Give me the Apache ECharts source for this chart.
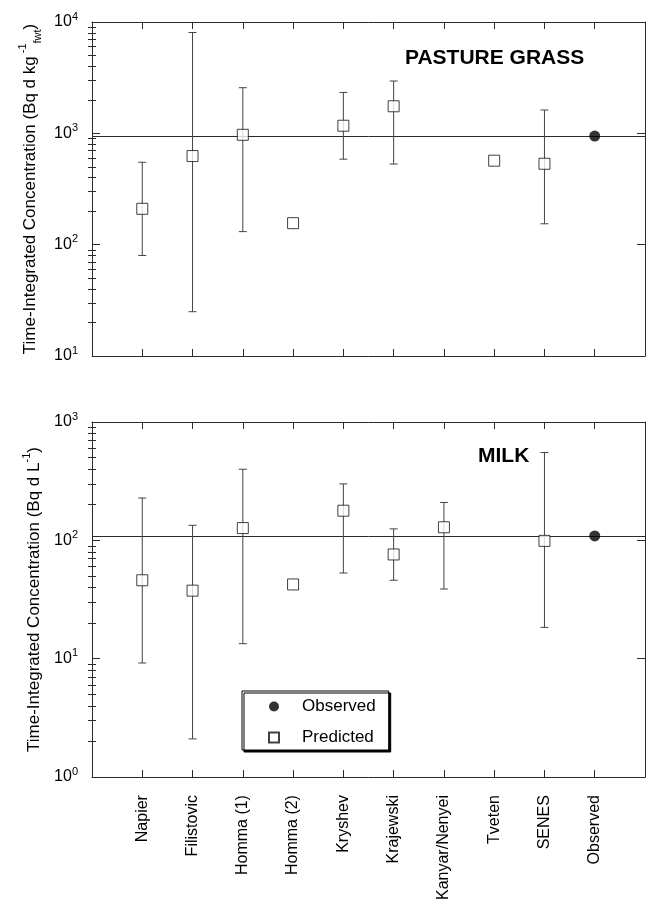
<!DOCTYPE html>
<html>
<head>
<meta charset="utf-8">
<title>Time-integrated concentration</title>
<script src="https://cdn.jsdelivr.net/npm/echarts@6.0.0/dist/echarts.min.js"></script>
<style>
  html, body { margin: 0; padding: 0; background: #fff; }
  #chart { width: 655px; height: 903px; }
</style>
</head>
<body>
<div id="chart"></div>
<script>
// models along the x axis (placed at 1..10)
const categories = ['Napier', 'Filistovic', 'Homma (1)', 'Homma (2)', 'Kryshev',
  'Krajewski', 'Kanyar/Nenyei', 'Tveten', 'SENES', 'Observed'];

// pasture grass, Bq d kg-1 fwt
const grassPredicted = [210, 625, 970, 156, 1170, 1750, null, 568, 533, null];
const grassLow = [80, 25, 131, null, 586, 530, null, null, 154, null];
const grassHigh = [550, 8050, 2570, null, 2330, 2950, null, null, 1620, null];
const grassObserved = 944;

// milk, Bq d L-1
const milkPredicted = [46, 37.6, 127, 42.4, 178, 76, 129, null, 99, null];
const milkLow = [9.2, 2.1, 13.4, null, 53, 46, 38.8, null, 18.4, null];
const milkHigh = [228, 134, 399, null, 300, 125, 209, null, 552, null];
const milkObserved = 109;

// axis decades (10^a .. 10^b)
const grassDecades = [1, 4];
const milkDecades = [0, 3];

const font = 'Liberation Sans, Arial, Helvetica, sans-serif';
const ink = '#2a2a2a';
const xTicks = categories.map((c, i) => i + 1);

function points(values) {
  return values.map((v, i) => (v == null ? null : [i + 1, v])).filter(Boolean);
}
function bars(low, high) {
  return low.map((v, i) => (v == null ? null : [i + 1, v, high[i]])).filter(Boolean);
}
// log10 positions of 2..9 in each decade, for minor ticks
function minorLog(a, b) {
  const out = [];
  for (let e = a; e < b; e++) for (let m = 2; m <= 9; m++) out.push(e + Math.log10(m));
  return out;
}

function xAxisFor(gridIndex, position, showLabels) {
  return {
    type: 'value', gridIndex, position, min: 0, max: 11,
    axisLine: { show: true, onZero: false, lineStyle: { color: ink, width: 1 } },
    axisTick: { show: true, inside: true, length: 7, customValues: xTicks, lineStyle: { color: ink } },
    axisLabel: {
      show: showLabels, customValues: xTicks, rotate: 90, margin: 18,
      fontSize: 16, color: '#000', fontFamily: font,
      formatter: v => categories[v - 1]
    },
    splitLine: { show: false }
  };
}

const nameRich = {
  b: { fontSize: 17, fontFamily: font, color: '#000', lineHeight: 26 },
  sup: { fontSize: 11, fontFamily: font, color: '#000', verticalAlign: 'top', lineHeight: 26 },
  sub: { fontSize: 11, fontFamily: font, color: '#000', verticalAlign: 'bottom', lineHeight: 26 }
};

function yLog(gridIndex, position, dec, name) {
  const left = position === 'left';
  return {
    type: 'log', logBase: 10, gridIndex, position,
    min: Math.pow(10, dec[0]), max: Math.pow(10, dec[1]),
    axisLine: { show: true, onZero: false, lineStyle: { color: ink, width: 1 } },
    axisTick: { show: true, inside: true, length: 8, lineStyle: { color: ink } },
    axisLabel: {
      show: left, margin: 14,
      formatter: v => '{b|10}{s|' + Math.round(Math.log10(v)) + '}',
      rich: {
        b: { fontSize: 16, fontFamily: font, color: '#000', lineHeight: 22 },
        s: { fontSize: 11, fontFamily: font, color: '#000', verticalAlign: 'top', lineHeight: 22 }
      }
    },
    splitLine: { show: false },
    name: left ? name : '',
    nameLocation: 'middle',
    nameGap: 44,
    nameTextStyle: { rich: nameRich }
  };
}

function yMinor(gridIndex, position, dec) {
  return {
    type: 'value', gridIndex, position, min: dec[0], max: dec[1],
    axisLine: { show: false },
    axisLabel: { show: false },
    splitLine: { show: false },
    axisTick: { show: true, inside: true, length: 4, customValues: minorLog(dec[0], dec[1]), lineStyle: { color: ink } }
  };
}

function errorBars(xi, yi, data) {
  return {
    type: 'custom', xAxisIndex: xi, yAxisIndex: yi, z: 2, silent: true,
    encode: { x: 0, y: [1, 2] },
    data,
    renderItem(params, api) {
      const x = api.value(0);
      const lo = api.coord([x, api.value(1)]);
      const hi = api.coord([x, api.value(2)]);
      const w = 4;
      const style = { stroke: '#444', lineWidth: 1 };
      return {
        type: 'group',
        children: [
          { type: 'line', shape: { x1: lo[0], y1: lo[1], x2: hi[0], y2: hi[1] }, style },
          { type: 'line', shape: { x1: hi[0] - w, y1: hi[1], x2: hi[0] + w, y2: hi[1] }, style },
          { type: 'line', shape: { x1: lo[0] - w, y1: lo[1], x2: lo[0] + w, y2: lo[1] }, style }
        ]
      };
    }
  };
}

function predicted(xi, yi, values) {
  return {
    name: 'Predicted', type: 'scatter', xAxisIndex: xi, yAxisIndex: yi, z: 3,
    symbol: 'rect', symbolSize: 11,
    itemStyle: { color: '#fff', borderColor: '#111', borderWidth: 1 },
    data: points(values)
  };
}

function observed(xi, yi, value) {
  return {
    name: 'Observed', type: 'scatter', xAxisIndex: xi, yAxisIndex: yi, z: 3,
    symbol: 'circle', symbolSize: 11,
    itemStyle: { color: '#000' },
    data: [[categories.length, value]],
    markLine: {  // horizontal line at the observed value
      silent: true, z: 1, symbol: ['none', 'none'],
      label: { show: false },
      lineStyle: { color: ink, width: 1, type: 'solid' },
      data: [{ yAxis: value }]
    }
  };
}

const chart = echarts.init(document.getElementById('chart'));
chart.setOption({
  animation: false,
  backgroundColor: '#fff',
  textStyle: { fontFamily: font },
  title: [
    { text: 'PASTURE GRASS', left: 400, top: 43, textStyle: { fontSize: 21, fontWeight: 'bold', color: '#000', fontFamily: font } },
    { text: 'MILK', left: 473, top: 441, textStyle: { fontSize: 21, fontWeight: 'bold', color: '#000', fontFamily: font } }
  ],
  grid: [
    { left: 92, top: 22, width: 553, height: 334 },
    { left: 92, top: 422, width: 553, height: 363 }
  ],
  legend: {
    left: 242, top: 691, orient: 'vertical',
    data: [{ name: 'Observed', icon: 'circle' }, { name: 'Predicted', icon: 'rect' }],
    itemWidth: 10, itemHeight: 10, itemGap: 14,
    padding: [7, 13, 4, 26],
    backgroundColor: '#fff', borderColor: '#000', borderWidth: 1,
    shadowColor: '#000', shadowBlur: 0, shadowOffsetX: 2, shadowOffsetY: 2,
    textStyle: { fontSize: 17, color: '#000', fontFamily: font, padding: [0, 0, 0, 18] },
    selectedMode: false
  },
  xAxis: [
    xAxisFor(0, 'bottom', false),
    xAxisFor(0, 'top', false),
    xAxisFor(1, 'bottom', true),
    xAxisFor(1, 'top', false)
  ],
  yAxis: [
    yLog(0, 'left', grassDecades, '{b|Time-Integrated Concentration (Bq d kg}{sup| -1}{sub|fwt}{b|)}'),
    yLog(0, 'right', grassDecades, ''),
    yMinor(0, 'left', grassDecades),
    yMinor(0, 'right', grassDecades),
    yLog(1, 'left', milkDecades, '{b|Time-Integrated Concentration (Bq d L}{sup|-1}{b|)}'),
    yLog(1, 'right', milkDecades, ''),
    yMinor(1, 'left', milkDecades),
    yMinor(1, 'right', milkDecades)
  ],
  series: [
    errorBars(0, 0, bars(grassLow, grassHigh)),
    predicted(0, 0, grassPredicted),
    observed(0, 0, grassObserved),
    errorBars(2, 4, bars(milkLow, milkHigh)),
    predicted(2, 4, milkPredicted),
    observed(2, 4, milkObserved)
  ]
});
</script>
</body>
</html>
